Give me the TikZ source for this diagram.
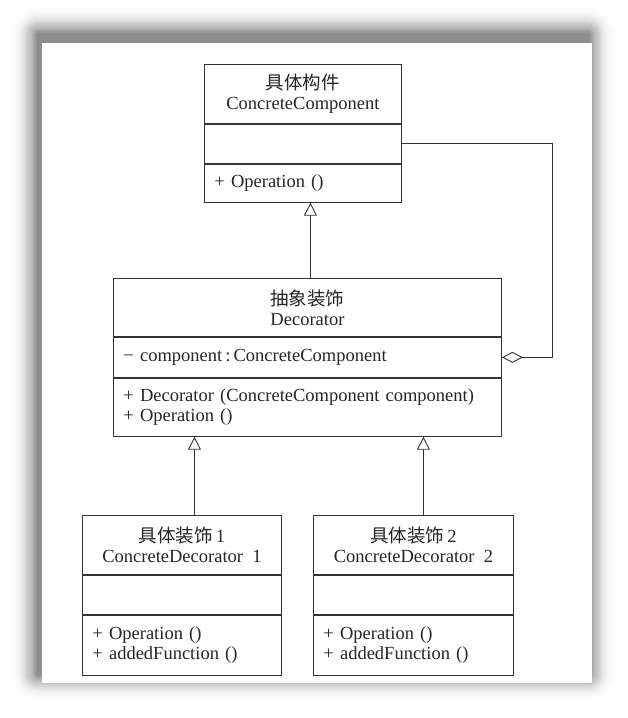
\documentclass[tikz,border=0pt]{standalone}
\usepackage{fontspec}
\setmainfont{Liberation Serif}
\newfontfamily\cjk{Noto Sans CJK SC}
\usetikzlibrary{arrows.meta,calc}
\begin{document}
\begin{tikzpicture}[x=1pt,y=-1pt,
  box/.style={draw=black!80, line width=0.9pt, rectangle, anchor=north west, inner sep=0pt,
    font=\fontsize{18.5}{20}\selectfont, text=black!85},
  title/.style={box, align=center},
  body/.style={box, align=left, inner xsep=10pt},
  gen/.style={draw=black!80, line width=0.9pt, -{Triangle[fill=white,length=13pt,width=13pt]}},
  agg/.style={draw=black!80, line width=0.9pt, -{Diamond[fill=white,length=21pt,width=11pt]}}]
\useasboundingbox (0,0) rectangle (627,718);
% soft shadow of the page (offset up-left, fading outwards)
\foreach \i in {1,...,34}{
  \pgfmathsetmacro\op{0.053*(1-\i/34)^2}
  \fill[black, opacity=\op, rounded corners=\i pt] (38-\i,34-\i) rectangle (588+\i,674+\i);
}
\fill[white] (42,43) rectangle (592,683);

% ConcreteComponent
\node[title, minimum width=197pt, minimum height=59pt] (cct) at (204,64) {{\cjk 具体构件}\\ConcreteComponent};
\node[box, minimum width=197pt, minimum height=39pt] (cca) at (cct.south west) {};
\node[body, text width=177pt, minimum height=38pt] (cco) at (cca.south west) {+ Operation ()};

% Decorator
\node[title, minimum width=388pt, minimum height=58pt] (dect) at (113,278) {{\cjk 抽象装饰}\\Decorator};
\node[body, text width=368pt, minimum height=40pt] (deca) at (dect.south west) {− component\,:\,ConcreteComponent};
\node[body, text width=368pt, minimum height=58pt] (deco) at (deca.south west) {+ Decorator (ConcreteComponent component)\\+ Operation ()};

% ConcreteDecorator 1
\node[title, minimum width=199pt, minimum height=59pt] (cd1t) at (82,515) {{\cjk 具体装饰}\,1\\ConcreteDecorator\enspace 1};
\node[box, minimum width=199pt, minimum height=39pt] (cd1a) at (cd1t.south west) {};
\node[body, text width=179pt, minimum height=60pt] (cd1o) at (cd1a.south west) {+ Operation ()\\+ addedFunction ()};

% ConcreteDecorator 2
\node[title, minimum width=200pt, minimum height=59pt] (cd2t) at (313,515) {{\cjk 具体装饰}\,2\\ConcreteDecorator\enspace 2};
\node[box, minimum width=200pt, minimum height=39pt] (cd2a) at (cd2t.south west) {};
\node[body, text width=180pt, minimum height=60pt] (cd2o) at (cd2a.south west) {+ Operation ()\\+ addedFunction ()};

% connectors
\draw[gen] ([xshift=3pt]dect.north) -- ([xshift=3pt]dect.north |- cco.south);
\draw[gen] ([xshift=12.5pt]cd1t.north) -- ([xshift=12.5pt]cd1t.north |- deco.south);
\draw[gen] ([xshift=10pt]cd2t.north) -- ([xshift=10pt]cd2t.north |- deco.south);
\draw[agg] (cca.east) -| ($(deca.east)+(51,0)$) -- (deca.east);
\end{tikzpicture}
\end{document}
